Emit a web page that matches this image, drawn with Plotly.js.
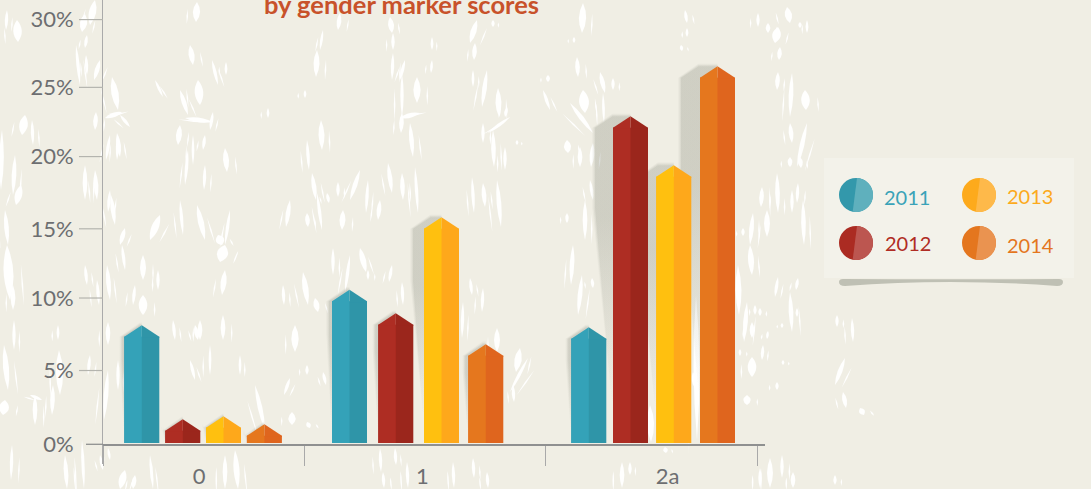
<!DOCTYPE html>
<html><head><meta charset="utf-8">
<script src="https://cdn.plot.ly/plotly-3.0.1.min.js"></script>
<style>html,body{margin:0;padding:0;background:#f0eee4;overflow:hidden}#c{width:1091px;height:489px}</style>
</head><body><div id="c"></div>
<script>
// ---------- data ----------
const categories = ['0', '1', '2a'];
const years = ['2011', '2012', '2013', '2014'];
const values2011 = [8.32, 10.8, 8.18];
const values2012 = [1.75, 9.16, 22.94];
const values2013 = [1.96, 15.87, 19.52];
const values2014 = [1.4, 7.0, 26.43];
const yTickLabels = ['0%', '5%', '10%', '15%', '20%', '25%', '30%'];
const yTickPositions = [0, 5.16, 10.23, 15.07, 20.12, 24.96, 29.7];

// ---------- placement (x axis is laid out in page pixels) ----------
const groupEdges = [103, 304.3, 545, 757.5];
const groupLabelX = [199, 422.3, 667.7];
const centres = [[141.8, 349.5, 588.8], [182.8, 395.8, 630.5], [223.5, 441.5, 673.8], [264.4, 485.8, 717.5]];
const shadowShift = [[2, 3, 3], [1, 3, 18], [1, 11, 16], [1, 3, 19]];
const lightColours = ['#34a2b8', '#ae2d23', '#ffc00f', '#e5771e'];
const darkColours = ['#2f95a8', '#9b261c', '#fea81b', '#df651e'];
const legendDark = ['#3398ab', '#ab2b22', '#fdaa1c', '#e4761e'];
const legendLight = ['#5fb0bd', '#bc5650', '#feb94a', '#ea9350'];
const legendText = ['#3aa3b8', '#b02c24', '#fcaa1c', '#e4761e'];
const legendPos = [[856, 195, 884, 197], [856, 243, 885, 243], [979, 195, 1007, 196], [979, 243, 1007, 245]];
const seriesValues = [values2011, values2012, values2013, values2014];

const W = 1091, H = 489, L = 103, R = 765, B = 464, ZERO = 444.3, PXU = 14.3;
const yRange = [(ZERO - B) / PXU, ZERO / PXU];
const halfW = 17.5, roof = 11.5 / PXU, floorV = 0.09;
const px = (x) => (x - L) / (R - L);
const py = (y) => (B - y) / B;
const P = (x, y) => px(x).toFixed(5) + ',' + py(y).toFixed(5);

// ---------- worn-paper texture: [x1,y1,x2,y2,width] ----------
const streaks = [[95,0,90,25,5],[85,14,82,32,5],[17,20,18,42,6],[7,10,6,30,2],[87,35,85,48,2],[76,45,80,85,2],[86,55,87,75,2],[100,60,94,80,3],[112,77,118,110,5],[105,118,122,112,3],[120,115,130,127,2],[96,112,95,130,3],[25,115,22,135,6],[32,120,33,145,2],[2,130,1,190,3],[15,155,13,195,3],[21,185,16,205,5],[85,165,85,200,3],[95,170,97,200,3],[110,190,108,212,2],[118,135,117,160,2],[117,133,120,157,3],[110,135,106,160,2],
[190,45,193,65,4],[197,2,196,22,5],[212,60,218,85,2],[226,62,226,75,1.5],[155,80,163,97,1.5],[198,80,200,105,6],[180,90,188,115,3],[185,118,213,122,3],[180,125,178,145,4],[193,135,193,165,1.5],[213,112,210,130,2],[205,135,203,150,2],[225,148,227,172,4],[188,150,185,185,2],[205,165,204,190,2],[268,108,268,118,1.5],[160,215,150,240,5],[180,200,183,235,2],[197,205,205,240,4],[230,210,225,245,2],[218,235,222,245,6],[111,195,115,225,3],[125,228,120,245,3],[5,210,8,245,3],
[7,245,10,300,7],[13,285,13,310,3],[85,265,87,285,2],[97,280,99,305,2],[107,265,110,300,3],[122,245,125,270,2],[143,255,143,280,4],[158,270,158,290,2],[143,295,143,315,6],[135,285,133,305,2],[225,245,220,262,8],[225,270,222,295,4],[223,315,223,340,3],[200,320,200,340,3],[173,320,175,340,2],[108,322,108,345,3],[14,320,14,350,2],[58,325,58,340,1.5],[4,345,8,390,4],[59,350,60,395,5],[90,355,88,375,2],[108,370,104,420,3],[118,360,118,390,2],[30,395,42,400,2],[35,395,35,425,3],[53,385,52,415,3],[5,400,3,415,7],
[82,440,84,489,2],[125,470,120,489,5],[108,448,110,460,1.5],[65,455,67,489,3],[100,455,103,470,2],[235,450,238,489,4],[225,455,225,489,3],[150,455,153,489,2],[135,475,133,489,3],[12,445,11,480,2],[195,325,198,340,3],[190,360,195,380,2],[210,345,210,375,1.5],[240,355,240,375,1.5],[255,385,265,430,3],
[340,13,338,30,3],[323,30,320,50,1.5],[317,50,316,77,4],[305,90,305,98,1.5],[321,120,322,150,4],[307,140,309,170,2],[312,173,316,200,3],[317,193,322,230,2],[338,182,338,197,2],[360,170,350,200,3],[368,180,366,213,2],[380,200,378,220,3],[343,210,342,230,4],[290,200,286,227,3],[307,213,308,227,3],[327,193,329,203,2],
[390,17,392,33,4],[393,33,393,50,2],[393,53,392,80,2],[405,60,400,80,2],[417,77,417,103,5],[402,73,402,117,2],[400,118,420,113,3],[402,113,401,133,3],[410,123,413,157,3],[388,163,392,193,3],[402,173,403,200,3],[415,167,418,213,2],[432,37,432,50,1.5],[432,60,431,73,1.5],[477,20,470,43,4],[475,43,474,60,3],[473,70,473,87,1.5],[487,70,482,107,3],[498,88,499,117,4],[507,107,505,117,2],[483,123,483,143,2],[510,117,488,133,2],[493,130,494,167,3],[505,147,505,170,2],[517,140,517,145,1.5],[548,75,548,82,2.5],[543,90,550,110,2],[472,177,474,213,2],[483,183,485,207,3],[497,180,501,227,3],[493,20,493,27,2],
[303,272,308,305,4],[315,298,318,312,4],[295,325,295,352,5],[283,285,284,305,2],[307,365,307,375,2],[290,378,284,395,2],[292,412,292,425,5],[307,422,310,428,3],[323,372,326,385,2],[333,248,333,275,2],[350,255,345,292,2],[360,248,366,272,4],[392,265,389,282,2],[368,270,368,280,1.5],[402,282,403,305,2],
[470,278,472,295,2],[483,288,482,312,2],[463,302,462,338,2],[497,328,497,352,4],[520,348,516,372,5],[513,385,514,402,2],[528,358,510,392,2],[380,448,381,472,2],[395,448,396,465,2],[407,462,408,488,2],[383,472,384,488,2],[453,462,454,488,2],[473,458,474,478,2],[487,472,488,488,2],
[583,3,582,33,5],[574,37,574,43,1.5],[577,57,578,77,3],[600,72,605,93,3],[613,78,613,90,2],[603,93,604,123,1.5],[583,90,585,113,7],[570,103,593,133,3],[567,140,568,153,5],[580,147,580,167,3],[593,143,591,167,3],[590,180,593,200,2],[585,200,585,240,3],[567,213,567,223,2],[685,10,687,23,2],[687,28,687,37,1.5],[681,45,682,51,2],
[787,7,790,23,5],[778,27,775,43,6],[780,47,779,60,3],[768,23,768,33,3],[807,20,807,33,1.5],[800,22,800,28,2],[758,13,758,27,2],[778,72,777,90,3],[792,73,790,117,3],[805,90,806,110,6],[790,123,792,143,3],[807,123,797,167,3],[790,157,790,167,3],[800,157,801,168,3],[777,173,778,213,3],[762,187,761,207,3],[767,210,767,237,4],[753,213,750,245,3],[792,190,792,213,2],[803,200,804,245,3],[743,228,743,236,2],[798,183,797,203,2],
[573,245,571,285,3],[582,275,578,315,3],[592,278,593,288,2],[750,245,752,275,4],[738,265,739,315,4],[747,302,744,342,3],[755,305,755,315,2],[760,308,760,316,2],[752,322,752,338,3],[763,345,762,360,2],[768,331,767,339,1.5],[740,349,740,356,1.5],[752,357,752,377,6],[747,395,747,405,5],[777,382,777,390,2],[778,277,775,297,2],[798,278,796,290,2],[790,292,792,332,3],[797,308,797,317,1.5],[837,315,837,327,2],[852,318,853,342,2],[845,358,835,385,3],[843,392,846,408,3],[860,408,864,415,4],[782,323,782,328,1.5],[783,360,783,365,1.5],
[622,462,622,488,3],[630,462,630,475,2],[770,458,770,488,4],[782,455,782,478,2],[793,472,793,488,3],[835,475,835,485,2],[760,468,760,488,2],[665,447,666,453,3],[650,405,651,442,5],[693,372,695,388,3],[696,295,697,440,4]];

// ---------- traces ----------
const traces = [];
// soft shadows sit in the base subplot, so the bars cover them
seriesValues.forEach((vals, s) => {
  vals.forEach((v, g) => {
    const c = centres[s][g], off = shadowShift[s][g], left = c - halfW;
    [[2.6, 0.07], [1.3, 0.1], [0, 0.13]].forEach(([grow, a]) => {
      const shoulder = v - roof, top = v + grow / PXU;
      traces.push({
        type: 'scatter', mode: 'lines', xaxis: 'x', yaxis: 'y', hoverinfo: 'skip', showlegend: false,
        line: { width: 0, color: 'rgba(0,0,0,0)' }, fill: 'toself',
        x: [c - off, left - off - grow, left - off - grow, left - 1, c, c],
        y: [top, shoulder, v * 0.72, v * 0.12, v * 0.12, top],
        fillgradient: {
          type: 'vertical', start: v * 0.12, stop: top,
          colorscale: [[0, 'rgba(120,124,110,0)'], [0.65, `rgba(120,124,110,${a})`], [1, `rgba(120,124,110,${a})`]]
        }
      });
    });
  });
});
// bars: a full dark body with the light half over it, then the pointed roof
seriesValues.forEach((vals, s) => {
  const body = vals.map(v => v - roof - floorV);
  traces.push({
    type: 'bar', xaxis: 'x2', yaxis: 'y2', name: years[s], showlegend: false,
    x: centres[s], y: body, base: vals.map(() => floorV),
    width: vals.map(() => 2 * halfW), marker: { color: darkColours[s], line: { width: 0 } },
    customdata: vals, hovertemplate: years[s] + ': %{customdata}%<extra></extra>'
  });
  traces.push({
    type: 'bar', xaxis: 'x2', yaxis: 'y2', name: years[s], showlegend: false, hoverinfo: 'skip',
    x: centres[s].map(c => c - halfW / 2), y: body, base: vals.map(() => floorV),
    width: vals.map(() => halfW), marker: { color: lightColours[s], line: { width: 0 } }
  });
  [[1, darkColours[s]], [-1, lightColours[s]]].forEach(([side, colour]) => {
    vals.forEach((v, g) => {
      const c = centres[s][g];
      traces.push({
        type: 'scatter', mode: 'lines', xaxis: 'x2', yaxis: 'y2', hoverinfo: 'skip', showlegend: false,
        line: { width: 0, color: colour }, fill: 'toself', fillcolor: colour,
        x: [c, c + side * halfW, c + side * halfW, c, c], y: [v, v - roof, v - roof - 0.07, v - roof - 0.07, v]
      });
    });
  });
});

// ---------- shapes ----------
const lens = (x1, y1, x2, y2, w) => {
  const mx = (x1 + x2) / 2, my = (y1 + y2) / 2, dx = x2 - x1, dy = y2 - y1, n = Math.hypot(dx, dy) || 1;
  const ox = dy / n * w, oy = -dx / n * w;
  return {
    type: 'path', layer: 'below', xref: 'paper', yref: 'paper', line: { width: 0 }, fillcolor: 'rgba(255,255,255,0.95)',
    path: `M${P(x1, y1)} Q${P(mx + ox, my + oy)} ${P(x2, y2)} Q${P(mx - ox, my - oy)} ${P(x1, y1)} Z`
  };
};
const shapes = [];
streaks.forEach(([x1, y1, x2, y2, w], i) => {
  const wide = w * 1.3 + 0.8;
  shapes.push(lens(x1, y1, x2, y2, wide));
  // a thinner companion scrape beside each mark gives the clumped look of the worn paper
  const side = i % 2 ? 1 : -1, gap = wide + 2 + (i % 3), len = y2 - y1;
  shapes.push(lens(x1 + side * gap, y1 + len * 0.35, x2 + side * gap, y2 + len * 0.1, 1.6));
});
yTickPositions.slice(1).forEach(v => shapes.push({
  type: 'line', xref: 'paper', yref: 'y', x0: px(79), x1: px(103), y0: v, y1: v, line: { color: '#b4b4ae', width: 1.2 }
}));
shapes.push({ type: 'line', xref: 'paper', yref: 'paper', x0: px(86), x1: px(103), y0: py(ZERO), y1: py(ZERO), line: { color: '#8f9090', width: 1.3 } });
shapes.push({ type: 'rect', xref: 'paper', yref: 'paper', x0: px(824), x1: px(1074), y0: py(158), y1: py(278), line: { width: 0 }, fillcolor: '#f3f2ea' });
shapes.push({
  type: 'path', xref: 'paper', yref: 'paper', line: { width: 0 }, fillcolor: '#bfc0b4',
  path: `M${P(839, 282)} Q${P(839, 279)} ${P(843, 279)} Q${P(950, 279.5)} ${P(1059, 279)} Q${P(1063, 279)} ${P(1063, 282)} Q${P(1063, 286)} ${P(1057, 286)} Q${P(950, 278)} ${P(845, 286)} Q${P(839, 286)} ${P(839, 282)} Z`
});
const annotations = [];
legendPos.forEach(([cx, cy, tx, ty], i) => {
  const r = 17;
  shapes.push({ type: 'circle', xref: 'paper', yref: 'paper', x0: px(cx - r), x1: px(cx + r), y0: py(cy + r), y1: py(cy - r), line: { width: 0 }, fillcolor: legendDark[i] });
  const a0 = Math.atan2(-16.9, 1), a1 = Math.atan2(16.6, -3.3), pts = [];
  for (let k = 0; k <= 48; k++) {
    const a = a0 + (a1 - a0) * k / 48;
    pts.push(P(cx + r * Math.cos(a), cy + r * Math.sin(a)));
  }
  shapes.push({ type: 'path', xref: 'paper', yref: 'paper', line: { width: 0 }, fillcolor: legendLight[i], path: 'M' + pts.join(' L') + ' Z' });
  annotations.push({
    xref: 'paper', yref: 'paper', x: px(tx), y: py(ty), xanchor: 'left', yanchor: 'middle', showarrow: false,
    text: years[i], font: { family: 'Lato, sans-serif', size: 20, color: legendText[i] }, borderpad: 0, xshift: -1
  });
});

// ---------- layout ----------
const baseX = { range: [L, R], domain: [0, 1] };
const layout = {
  width: W, height: H, margin: { l: L, r: W - R, t: 0, b: H - B, pad: 0 },
  paper_bgcolor: '#f0eee4', plot_bgcolor: 'rgba(0,0,0,0)', barmode: 'overlay', showlegend: false, hovermode: 'closest',
  title: {
    text: '<b>by gender marker scores</b>', x: 401.5 / W, xanchor: 'center', y: 1 - 14 / H, yanchor: 'bottom', automargin: false,
    font: { family: 'Lato, sans-serif', size: 25.5, color: '#c8522a' }, pad: { t: 0, b: 0, l: 0, r: 0 }
  },
  xaxis: Object.assign({}, baseX, {
    anchor: 'free', position: (B - ZERO) / B, type: 'linear', showgrid: false, zeroline: false,
    showline: true, linecolor: '#8f9090', linewidth: 1.3,
    tickmode: 'array', tickvals: groupLabelX, ticktext: categories, ticks: 'outside', ticklen: 12, tickcolor: 'rgba(0,0,0,0)',
    tickfont: { family: 'Lato, sans-serif', size: 22, color: '#6d6e71' },
    minor: { tickmode: 'array', tickvals: groupEdges, ticks: 'outside', ticklen: 20, tickcolor: '#a9a9a9', tickwidth: 1, showgrid: false }
  }),
  yaxis: {
    range: yRange, domain: [0, 1], anchor: 'x', type: 'linear', showgrid: false, zeroline: false,
    showline: true, linecolor: '#aaaaaa', linewidth: 1,
    tickmode: 'array', tickvals: yTickPositions, ticktext: yTickLabels, ticks: 'outside', ticklen: 24, tickcolor: 'rgba(0,0,0,0)',
    tickfont: { family: 'Lato, sans-serif', size: 22, color: '#6d6e71' }
  },
  xaxis2: Object.assign({}, baseX, { overlaying: 'x', anchor: 'y2', visible: false }),
  yaxis2: { range: yRange, domain: [0, 1], overlaying: 'y', anchor: 'x2', visible: false },
  shapes, annotations
};
Plotly.newPlot('c', traces, layout, { staticPlot: true, displayModeBar: false });
</script></body></html>
